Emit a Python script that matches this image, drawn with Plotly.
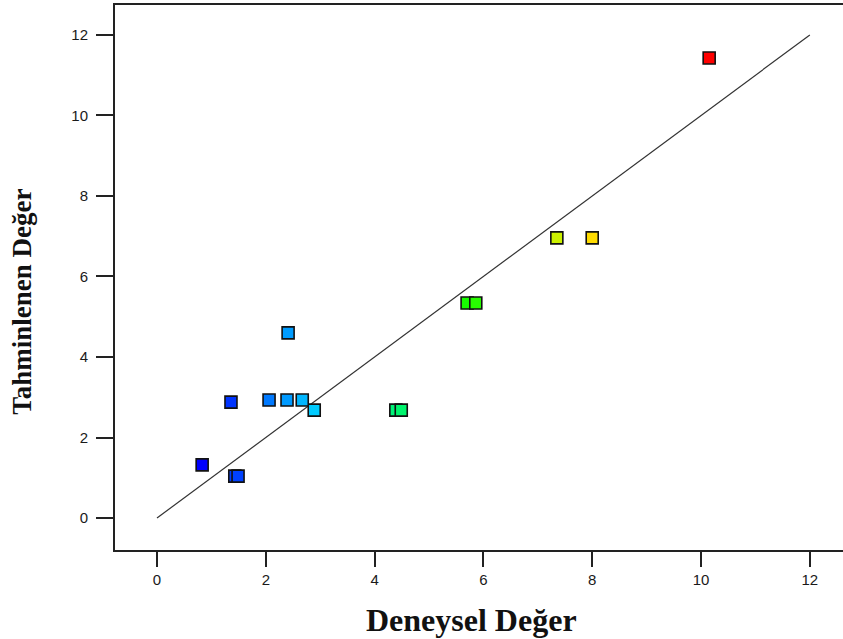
import plotly.graph_objects as go

# Experimental vs. predicted values
deneysel = [10.15, 7.35, 8.0, 5.70, 5.86, 4.39, 4.49, 2.89, 2.06, 2.39, 2.67,
            2.41, 1.36, 0.83, 1.43, 1.49]
tahmin = [11.43, 6.96, 6.96, 5.34, 5.34, 2.68, 2.68, 2.68, 2.93, 2.93, 2.93,
          4.60, 2.88, 1.32, 1.04, 1.04]

# Reference line y = x
ref_line = [0, 12]
tick_vals = [0, 2, 4, 6, 8, 10, 12]

rainbow = [[0.0, "#0000ff"], [0.25, "#00e6ff"], [0.5, "#00ff00"],
           [0.75, "#ffee00"], [1.0, "#ff0000"]]

fig = go.Figure()
fig.add_trace(go.Scatter(
    x=ref_line, y=ref_line, mode="lines",
    line=dict(color="#333333", width=1.2), hoverinfo="skip", showlegend=False,
))
fig.add_trace(go.Scatter(
    x=deneysel, y=tahmin, mode="markers", showlegend=False,
    marker=dict(symbol="square", size=12, color=deneysel, colorscale=rainbow,
                cmin=min(deneysel), cmax=max(deneysel),
                line=dict(color="#111111", width=1.6)),
))

tick_font = dict(family="Liberation Sans, Arial, sans-serif", size=15, color="#1a1a1a")
title_family = "Liberation Serif, Times New Roman, serif"

fig.update_xaxes(
    range=[-0.772, 12.61], tickvals=tick_vals, ticks="outside", ticklen=15,
    tickwidth=2, tickcolor="#222222", showline=True, linecolor="#222222",
    linewidth=2, mirror=True, showgrid=False, zeroline=False,
    tickfont=tick_font,
)
fig.update_yaxes(
    range=[-0.795, 12.745], tickvals=tick_vals, ticks="outside", ticklen=17,
    tickwidth=2, tickcolor="#222222", showline=True, linecolor="#222222",
    linewidth=2, showgrid=False, zeroline=False, tickfont=tick_font,
    ticklabelstandoff=5,
)

fig.add_annotation(
    text="<b>Deneysel Değer</b>", xref="paper", yref="paper", x=0.49, y=-0.128,
    xanchor="center", yanchor="middle", showarrow=False,
    font=dict(family=title_family, size=32, color="#111111"),
)
fig.add_annotation(
    text="<b>Tahminlenen Değer</b>", xref="paper", yref="paper", x=-0.128, y=0.455,
    xanchor="center", yanchor="middle", showarrow=False, textangle=-90,
    font=dict(family=title_family, size=27, color="#111111"),
)

fig.update_layout(
    width=843, height=639, autosize=False,
    margin=dict(l=115, r=0, t=5, b=89),
    paper_bgcolor="white", plot_bgcolor="white",
)

fig.write_html("out.html")
